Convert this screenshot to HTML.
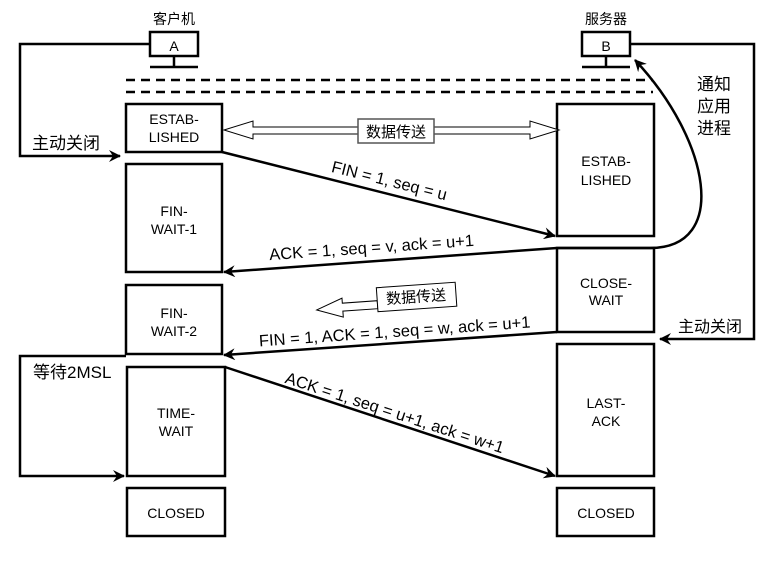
<!DOCTYPE html>
<html><head><meta charset="utf-8"><style>
html,body{margin:0;padding:0;background:#fff;}
svg{display:block;}
text{font-family:"Liberation Sans","Noto Sans CJK SC",sans-serif;fill:#000;}
</style></head><body>
<svg width="777" height="561" viewBox="0 0 777 561" xmlns="http://www.w3.org/2000/svg">
<defs>
<marker id="ah" markerWidth="12" markerHeight="12" refX="11" refY="6" orient="auto" markerUnits="userSpaceOnUse">
<path d="M0,0 L12,6 L0,12 L4,6 Z" fill="#000"/>
</marker>
</defs>
<g fill="none" stroke="#000" stroke-width="2.5">
<rect x="150" y="32" width="48" height="24" fill="#fff"/>
<line x1="174" y1="56" x2="174" y2="67"/>
<line x1="150" y1="67" x2="198" y2="67"/>
<rect x="582" y="32" width="48" height="24" fill="#fff"/>
<line x1="606" y1="56" x2="606" y2="67"/>
<line x1="582" y1="67" x2="630" y2="67"/>
<line x1="126" y1="80" x2="653" y2="80" stroke-dasharray="9,6"/>
<line x1="126" y1="92" x2="653" y2="92" stroke-dasharray="9,6"/>
<rect x="126" y="104" width="96" height="48"/>
<rect x="126" y="164" width="96" height="108"/>
<rect x="126" y="285" width="96" height="69"/>
<rect x="127" y="367" width="98" height="109"/>
<rect x="127" y="488" width="98" height="48"/>
<rect x="557" y="104" width="97" height="132"/>
<rect x="557" y="248" width="97" height="84"/>
<rect x="557" y="344" width="97" height="132"/>
<rect x="557" y="488" width="97" height="48"/>
<polyline points="150,44 20,44 20,156 120,156" marker-end="url(#ah)"/>
<polyline points="630,44 754,44 754,339 660,339" marker-end="url(#ah)"/>
<polyline points="126,356 20,356 20,476 124,476" marker-end="url(#ah)"/>
<path d="M557,248 L650,248 C730,248 710,140 635,60" marker-end="url(#ah)"/>
<line x1="222" y1="152" x2="555" y2="236" marker-end="url(#ah)"/>
<line x1="557" y1="248" x2="224" y2="272" marker-end="url(#ah)"/>
<line x1="557" y1="332" x2="224" y2="355" marker-end="url(#ah)"/>
<line x1="225" y1="367" x2="555" y2="476" marker-end="url(#ah)"/>
</g>
<path d="M224,130 L253,121 L253,127 L358,127 L358,134 L253,134 L253,139 Z" fill="#fff" stroke="#000" stroke-width="1"/>
<path d="M559,130 L530,121 L530,127 L434,127 L434,134 L530,134 L530,139 Z" fill="#fff" stroke="#000" stroke-width="1"/>
<rect x="358" y="119" width="76" height="24" fill="#fff" stroke="#555" stroke-width="1.5"/>
<text x="396" y="137" font-size="15" text-anchor="middle">数据传送</text>
<g transform="rotate(-4 416 296)">
<path d="M316,303 L342,293 L342,298 L377,298 L377,306 L342,306 L342,312 Z" fill="#fff" stroke="#000" stroke-width="1"/>
<rect x="377" y="285" width="79" height="24" fill="#fff" stroke="#000" stroke-width="1"/>
<text x="416" y="302" font-size="15" text-anchor="middle">数据传送</text>
</g>
<text x="174" y="24" font-size="14" text-anchor="middle">客户机</text>
<text x="606" y="24" font-size="14" text-anchor="middle">服务器</text>
<text x="174" y="51" font-size="14" text-anchor="middle">A</text>
<text x="606" y="51" font-size="14" text-anchor="middle">B</text>
<g font-size="14" text-anchor="middle">
<text x="174" y="124">ESTAB-</text><text x="174" y="142">LISHED</text>
<text x="174" y="216">FIN-</text><text x="174" y="234">WAIT-1</text>
<text x="174" y="318">FIN-</text><text x="174" y="336">WAIT-2</text>
<text x="176" y="418">TIME-</text><text x="176" y="436">WAIT</text>
<text x="176" y="518">CLOSED</text>
<text x="606" y="166">ESTAB-</text><text x="606" y="185">LISHED</text>
<text x="606" y="288">CLOSE-</text><text x="606" y="305">WAIT</text>
<text x="606" y="408">LAST-</text><text x="606" y="426">ACK</text>
<text x="606" y="518">CLOSED</text>
</g>
<text x="32" y="149" font-size="17">主动关闭</text>
<text x="678" y="332" font-size="16">主动关闭</text>
<text x="33" y="378" font-size="17">等待2MSL</text>
<g font-size="17"><text x="697" y="90">通知</text><text x="697" y="112">应用</text><text x="697" y="134">进程</text></g>
<g font-size="16.5" text-anchor="middle">
<text transform="translate(388,186) rotate(14)">FIN = 1, seq = u</text>
<text transform="translate(372,253) rotate(-4)">ACK = 1, seq = v, ack = u+1</text>
<text transform="translate(395,337) rotate(-4)">FIN = 1, ACK = 1, seq = w, ack = u+1</text>
<text transform="translate(393,418) rotate(18)">ACK = 1, seq = u+1, ack = w+1</text>
</g>
</svg>
</body></html>
